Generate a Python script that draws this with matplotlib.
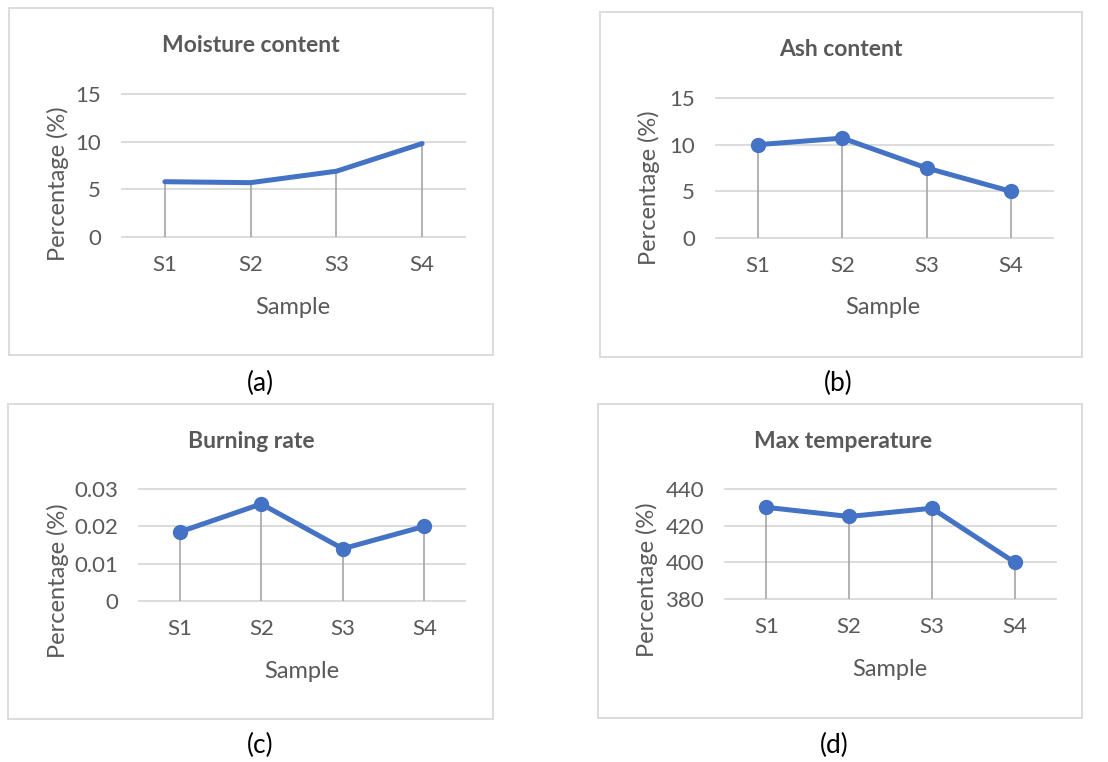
import matplotlib.pyplot as plt
from matplotlib.patches import Rectangle

# data
samples = ["S1", "S2", "S3", "S4"]
moisture = [5.8, 5.7, 6.9, 9.8]
ash = [10.0, 10.7, 7.5, 5.0]
burning = [0.0185, 0.026, 0.014, 0.020]
max_temp = [430, 425, 429.5, 400]

titles = ["Moisture content", "Ash content", "Burning rate", "Max temperature"]
captions = ["(a)", "(b)", "(c)", "(d)"]
yticks_list = [[0, 5, 10, 15], [0, 5, 10, 15], [0, 0.01, 0.02, 0.03], [380, 400, 420, 440]]
ytick_labels = [["0", "5", "10", "15"], ["0", "5", "10", "15"],
                ["0", "0.01", "0.02", "0.03"], ["380", "400", "420", "440"]]

W, H = 1108, 762
plt.rcParams["font.family"] = ["Lato", "DejaVu Sans"]
TXT = "#595959"
BLUE = "#4472C4"

fig = plt.figure(figsize=(W / 100, H / 100), dpi=100)


def fx(x):
    return x / W


def fy(y):
    return 1 - y / H


# pixel layout per panel: box, axes, title, xlabel, ylabel, caption
layout = [
    dict(box=(9, 8, 493, 355), ax=(122, 94, 465, 237), title=(251, 46),
         xl=(293, 307), yl=(58, 184), cap=(260, 383)),
    dict(box=(600, 12, 1082, 357), ax=(716, 98, 1053, 238), title=(841, 50),
         xl=(883, 308), yl=(649, 188), cap=(838, 383)),
    dict(box=(8, 404, 493, 719), ax=(139, 489, 465, 601), title=(251, 442),
         xl=(302, 672), yl=(58, 581), cap=(260, 745)),
    dict(box=(598, 404, 1082, 718), ax=(725, 489, 1056, 599), title=(843, 442),
         xl=(890, 669), yl=(647, 580), cap=(834, 745)),
]
series = [moisture, ash, burning, max_temp]

for i, (lay, vals) in enumerate(zip(layout, series)):
    x0, y0, x1, y1 = lay["box"]
    fig.patches.append(Rectangle((fx(x0), fy(y1)), fx(x1 - x0), (y1 - y0) / H,
                                 transform=fig.transFigure, fill=False,
                                 edgecolor="#D9D9D9", linewidth=1.3))
    a0, b0, a1, b1 = lay["ax"]
    ax = fig.add_axes([fx(a0), fy(b1), fx(a1 - a0), (b1 - b0) / H])
    yt = yticks_list[i]
    ax.set_ylim(yt[0], yt[-1])
    ax.set_xlim(-0.5, 3.5)
    ax.set_yticks(yt)
    ax.set_yticklabels(ytick_labels[i])
    ax.set_xticks(range(len(samples)))
    ax.set_xticklabels(samples)
    ax.tick_params(length=0, labelsize=16, labelcolor=TXT)
    ax.tick_params(axis="y", pad=15)
    ax.tick_params(axis="x", pad=13)
    for s in ax.spines.values():
        s.set_visible(False)
    ax.yaxis.grid(True, color="#D9D9D9", linewidth=1.3)
    for gl in ax.get_ygridlines():
        gl.set_clip_on(False)
    ax.set_axisbelow(True)

    xs = range(len(samples))
    ax.vlines(xs, yt[0], vals, color="#A6A6A6", linewidth=1.2, zorder=2)
    if i == 0:
        ax.plot(xs, vals, color=BLUE, linewidth=3.6, solid_capstyle="round", zorder=3)
    else:
        ax.plot(xs, vals, color=BLUE, linewidth=3.6, marker="o", markersize=10, zorder=3)

    fig.text(fx(lay["title"][0]), fy(lay["title"][1]), titles[i], ha="center", va="center",
             fontsize=16.5, fontweight="bold", color=TXT)
    fig.text(fx(lay["xl"][0]), fy(lay["xl"][1]), "Sample", ha="center", va="center",
             fontsize=17, color=TXT)
    fig.text(fx(lay["yl"][0]), fy(lay["yl"][1]), "Percentage (%)", ha="center", va="center",
             fontsize=17, color=TXT, rotation=90)
    fig.text(fx(lay["cap"][0]), fy(lay["cap"][1]), captions[i], ha="center", va="center",
             fontsize=19, color="black")

fig.savefig("out.png", dpi=100, facecolor="white")
